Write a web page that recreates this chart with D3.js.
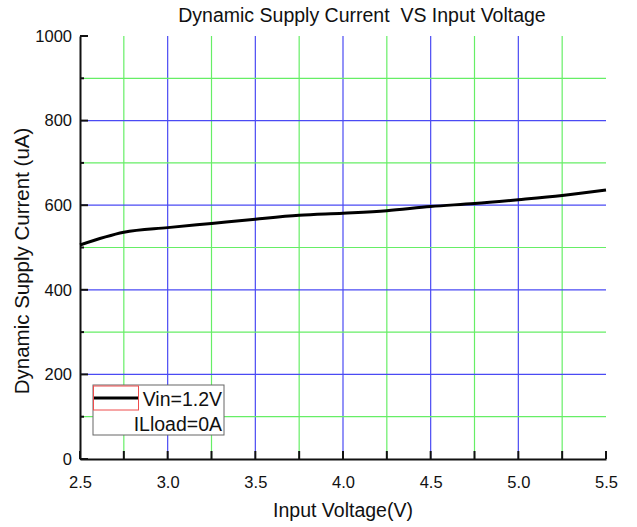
<!DOCTYPE html>
<html>
<head>
<meta charset="utf-8">
<script src="https://cdn.jsdelivr.net/npm/d3@7"></script>
<style>
  body { margin: 0; background: #fff; }
  text { font-family: "Liberation Sans", Arial, sans-serif; fill: #111; }
</style>
</head>
<body>
<div class="canvas"></div>
<script>
// values
const voltage = [2.5, 2.75, 3.0, 3.25, 3.5, 3.75, 4.0, 4.25, 4.5, 4.75, 5.0, 5.25, 5.5];
const current = [506, 536, 547, 557, 567, 576, 581, 587, 597, 604, 613, 623, 636];
const xTickLabels = ['2.5', '3.0', '3.5', '4.0', '4.5', '5.0', '5.5'];
const yTickLabels = ['0', '200', '400', '600', '800', '1000'];
const legendLines = ['Vin=1.2V', 'ILload=0A'];

const width = 637, height = 527;
const margin = {top: 36, right: 31, bottom: 68, left: 80};
const graphWidth = width - margin.left - margin.right;
const graphHeight = height - margin.top - margin.bottom;

const svg = d3.select('.canvas')
  .append('svg')
    .attr('width', width)
    .attr('height', height);

const graph = svg.append('g')
  .attr('transform', `translate(${margin.left}, ${margin.top})`);

const x = d3.scaleLinear()
  .domain([2.5, 5.5])
  .range([0, graphWidth]);

const y = d3.scaleLinear()
  .domain([0, 1000])
  .range([graphHeight, 0]);

const green = '#66ee66';
const blue = '#4a4af4';

// vertical grid (quarter volts green, half volts blue)
const xGrid = d3.range(2.75, 5.5, 0.25);
graph.selectAll('.vgrid')
  .data(xGrid)
  .enter()
  .append('line')
    .attr('x1', d => x(d)).attr('x2', d => x(d))
    .attr('y1', y(1000)).attr('y2', y(0))
    .attr('stroke', d => Math.abs(d * 2 - Math.round(d * 2)) < 1e-6 ? blue : green)
    .attr('stroke-width', 1.2);

// horizontal grid
const yGrid = d3.range(100, 1000, 100);
graph.selectAll('.hgrid')
  .data(yGrid)
  .enter()
  .append('line')
    .attr('x1', 0).attr('x2', graphWidth)
    .attr('y1', d => y(d)).attr('y2', d => y(d))
    .attr('stroke', d => d % 200 === 0 ? blue : green)
    .attr('stroke-width', 1.2);

// axes (labels + domain line)
const xTicks = d3.range(2.5, 5.51, 0.25);
const yTicks = d3.range(0, 1001, 100);

const xAxis = d3.axisBottom(x)
  .tickValues(xTicks)
  .tickSize(0)
  .tickPadding(17)
  .tickFormat(d => {
    const s = d3.format('.1f')(d);
    return xTickLabels.includes(s) ? s : '';
  });

const yAxis = d3.axisLeft(y)
  .tickValues(yTicks)
  .tickSize(0)
  .tickPadding(8)
  .tickFormat(d => yTickLabels.includes(String(d)) ? String(d) : '');

const xAxisGroup = graph.append('g')
  .attr('transform', `translate(0, ${graphHeight})`)
  .call(xAxis);
const yAxisGroup = graph.append('g').call(yAxis);

[xAxisGroup, yAxisGroup].forEach(g => {
  g.select('.domain').attr('stroke', '#111').attr('stroke-width', 2);
  g.selectAll('.tick text')
    .attr('font-size', 16.5)
    .attr('font-family', '"Liberation Sans", Arial, sans-serif')
    .attr('fill', '#111');
});

// inward tick marks
graph.selectAll('.xtick')
  .data(xTicks)
  .enter()
  .append('line')
    .attr('x1', d => x(d)).attr('x2', d => x(d))
    .attr('y1', graphHeight).attr('y2', graphHeight - 8)
    .attr('stroke', '#111').attr('stroke-width', 2);

graph.selectAll('.ytick')
  .data(yTicks)
  .enter()
  .append('line')
    .attr('x1', 0).attr('x2', d => d % 200 === 0 ? 8 : 4)
    .attr('y1', d => y(d)).attr('y2', d => y(d))
    .attr('stroke', '#111').attr('stroke-width', 2);

// curve
const line = d3.line()
  .x((d, i) => x(voltage[i]))
  .y(d => y(d))
  .curve(d3.curveMonotoneX);

graph.append('path')
  .datum(current)
  .attr('d', line)
  .attr('fill', 'none')
  .attr('stroke', '#000')
  .attr('stroke-width', 3);

// legend
const legend = svg.append('g').attr('transform', 'translate(93, 385)');
legend.append('rect')
  .attr('width', 131).attr('height', 50)
  .attr('fill', '#fff').attr('stroke', '#666').attr('stroke-width', 1);
legend.append('rect')
  .attr('x', 0.5).attr('y', 1)
  .attr('width', 45).attr('height', 24)
  .attr('fill', 'none').attr('stroke', '#ee4c4c').attr('stroke-width', 1);
legend.append('line')
  .attr('x1', 1).attr('x2', 45)
  .attr('y1', 13).attr('y2', 13)
  .attr('stroke', '#000').attr('stroke-width', 3);
legend.selectAll('.ltext')
  .data(legendLines)
  .enter()
  .append('text')
    .attr('x', 129)
    .attr('y', (d, i) => 21 + i * 25)
    .attr('text-anchor', 'end')
    .attr('font-size', 19.5)
    .text(d => d);

// titles
svg.append('text')
  .attr('x', 362).attr('y', 22)
  .attr('text-anchor', 'middle')
  .attr('font-size', 19.5)
  .style('white-space', 'pre')
  .text('Dynamic Supply Current  VS Input Voltage');

svg.append('text')
  .attr('x', 343).attr('y', 517)
  .attr('text-anchor', 'middle')
  .attr('font-size', 19.5)
  .text('Input Voltage(V)');

svg.append('text')
  .attr('transform', 'translate(29, 261) rotate(-90)')
  .attr('text-anchor', 'middle')
  .attr('font-size', 20.5)
  .text('Dynamic Supply Current (uA)');
</script>
</body>
</html>
